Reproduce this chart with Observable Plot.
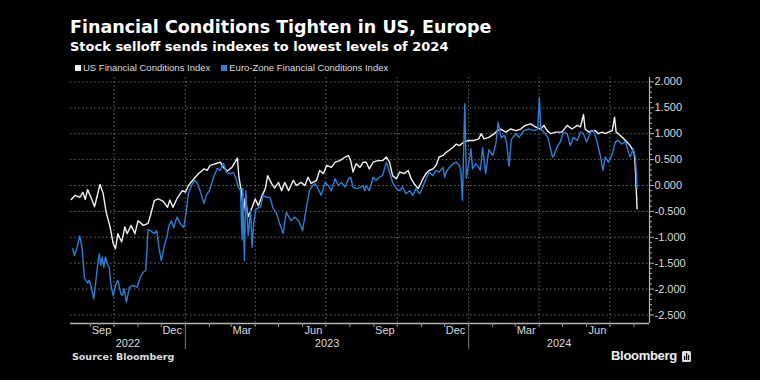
<!DOCTYPE html>
<html>
<head>
<meta charset="utf-8">
<script src="https://cdn.jsdelivr.net/npm/d3@7"></script>
<script src="https://cdn.jsdelivr.net/npm/@observablehq/plot@0.6"></script>
<style>
  html, body { margin: 0; padding: 0; background: #000; }
  #wrap { position: relative; width: 760px; height: 380px; background: #000; overflow: hidden; color: #fff; }
  #title { position: absolute; left: 70px; top: 19px; font: bold 17.5px "DejaVu Sans", sans-serif; line-height: 1; white-space: nowrap; }
  #subtitle { position: absolute; left: 70px; top: 40px; font: bold 13px "DejaVu Sans", sans-serif; line-height: 1; white-space: nowrap; }
  #legend { position: absolute; left: 75px; top: 62px; font: 9.5px "Liberation Sans", Arial, sans-serif; color: #ddd; line-height: 12px; white-space: nowrap; display: flex; align-items: center; }
  #legend .sw { display: inline-block; width: 6px; height: 6px; margin-right: 2px; }
  #legend .item { display: flex; align-items: center; margin-right: 11px; }
  #chart { position: absolute; left: 0; top: 74px; }
  #source { position: absolute; left: 72px; top: 351px; font: bold 9.5px "DejaVu Sans", sans-serif; color: #ddd; line-height: 12px; }
  #logo { position: absolute; left: 611px; top: 348px; font: bold 13px "Liberation Sans", Arial, sans-serif; color: #eee; line-height: 16px; display: flex; align-items: center; letter-spacing: -0.3px; }
  #logo svg { margin-left: 5px; }
</style>
</head>
<body>
<div id="wrap">
  <div id="title">Financial Conditions Tighten in US, Europe</div>
  <div id="subtitle">Stock selloff sends indexes to lowest levels of 2024</div>
  <div id="legend"></div>
  <div id="chart"></div>
  <div id="source">Source: Bloomberg</div>
  <div id="logo">Bloomberg<svg width="9" height="11" viewBox="0 0 9 11"><rect x="0" y="0" width="9" height="11" rx="1.5" fill="#ddd"/><rect x="2" y="5" width="1.2" height="4" fill="#000"/><rect x="4" y="2" width="1.2" height="7" fill="#000"/><rect x="6" y="4" width="1.2" height="5" fill="#000"/></svg></div>
</div>
<script>
// ---- Data ----
const seriesNames = ["US Financial Conditions Index", "Euro-Zone Financial Conditions Index"];

const usDates = [
"2022-08-07","2022-08-12","2022-08-18","2022-08-22","2022-08-25","2022-08-28","2022-09-02","2022-09-06","2022-09-13","2022-09-17",
"2022-09-21","2022-09-26","2022-09-30","2022-10-03","2022-10-06","2022-10-11","2022-10-15","2022-10-18","2022-10-23","2022-10-28",
"2022-11-01","2022-11-08","2022-11-14","2022-11-17","2022-11-22","2022-11-27","2022-12-03","2022-12-09","2022-12-12","2022-12-16",
"2022-12-21","2022-12-28","2023-01-01","2023-01-05","2023-01-12","2023-01-18","2023-01-25","2023-01-29","2023-02-02","2023-02-09",
"2023-02-15","2023-02-19","2023-02-24","2023-03-02","2023-03-06","2023-03-09","2023-03-11","2023-03-14","2023-03-17","2023-03-19",
"2023-03-23","2023-03-28","2023-04-01","2023-04-05","2023-04-10","2023-04-14","2023-04-17","2023-04-22","2023-04-26","2023-05-01",
"2023-05-05","2023-05-09","2023-05-14","2023-05-20","2023-05-24","2023-05-30","2023-06-04","2023-06-08","2023-06-12","2023-06-19",
"2023-06-23","2023-06-28","2023-07-02","2023-07-08","2023-07-13","2023-07-19","2023-07-26","2023-07-30","2023-08-02","2023-08-05",
"2023-08-09","2023-08-14","2023-08-18","2023-08-22","2023-08-26","2023-08-31","2023-09-06","2023-09-12","2023-09-17","2023-09-21",
"2023-09-25","2023-09-30","2023-10-04","2023-10-10","2023-10-15","2023-10-19","2023-10-23","2023-10-28","2023-10-31","2023-11-03",
"2023-11-07","2023-11-11","2023-11-16","2023-11-20","2023-11-24","2023-11-29","2023-12-03","2023-12-07","2023-12-12","2023-12-16",
"2023-12-20","2023-12-26","2024-01-01","2024-01-08","2024-01-14","2024-01-17","2024-01-21","2024-01-27","2024-02-03","2024-02-07",
"2024-02-11","2024-02-18","2024-02-24","2024-03-02","2024-03-08","2024-03-14","2024-03-21","2024-03-27","2024-04-03","2024-04-07",
"2024-04-11","2024-04-16","2024-04-22","2024-04-30","2024-05-07","2024-05-13","2024-05-20","2024-05-24","2024-05-28","2024-05-30",
"2024-06-04","2024-06-08","2024-06-12","2024-06-16","2024-06-21","2024-06-25","2024-06-29","2024-07-04","2024-07-07","2024-07-09",
"2024-07-14","2024-07-19","2024-07-23","2024-07-27","2024-07-31","2024-08-02","2024-08-03","2024-08-05"
];
const usValues = [
-0.27,-0.19,-0.23,-0.13,-0.27,-0.08,-0.25,-0.41,0.02,-0.15,
-0.52,-0.80,-1.12,-1.22,-0.93,-1.09,-0.80,-0.93,-0.77,-0.93,
-0.68,-0.77,-0.73,-0.58,-0.29,-0.26,-0.30,-0.42,-0.28,-0.42,
-0.26,-0.10,-0.13,0.00,0.13,0.23,0.32,0.29,0.39,0.42,
0.45,0.35,0.28,0.35,0.45,0.53,0.16,-0.10,-0.50,-0.25,
-0.60,-0.42,-0.26,-0.39,-0.19,-0.06,0.19,0.04,-0.05,0.06,
-0.10,0.06,-0.10,0.10,0.00,0.06,0.00,0.16,0.04,0.10,
0.29,0.23,0.39,0.35,0.45,0.48,0.55,0.58,0.48,0.26,
0.42,0.35,0.45,0.45,0.32,0.45,0.48,0.48,0.55,0.45,
0.19,0.13,0.26,0.23,0.29,0.13,0.03,-0.06,0.03,0.13,
0.23,0.29,0.32,0.39,0.55,0.58,0.64,0.68,0.74,0.80,
0.77,0.84,0.87,0.87,0.90,1.00,0.90,0.93,1.00,1.06,
1.09,1.03,1.09,1.06,1.09,1.16,1.19,1.13,1.09,1.16,
1.06,1.00,1.03,1.03,1.16,1.09,1.16,1.13,1.37,1.09,
1.03,1.06,1.06,1.00,1.03,1.00,1.03,1.06,1.32,1.03,
0.97,0.90,0.84,0.77,0.68,0.55,0.25,-0.45
];

const euDates = [
"2022-08-09","2022-08-11","2022-08-14","2022-08-18","2022-08-21","2022-08-24","2022-08-28","2022-08-30","2022-09-02","2022-09-05",
"2022-09-10","2022-09-12","2022-09-14","2022-09-16","2022-09-18","2022-09-20","2022-09-23","2022-09-25","2022-09-27","2022-09-30",
"2022-10-03","2022-10-06","2022-10-10","2022-10-12","2022-10-14","2022-10-17","2022-10-21","2022-10-25","2022-10-31","2022-11-04",
"2022-11-08","2022-11-11","2022-11-14","2022-11-17","2022-11-22","2022-11-25","2022-11-28","2022-12-01","2022-12-05","2022-12-08",
"2022-12-11","2022-12-14","2022-12-17","2022-12-21","2022-12-26","2022-12-30","2023-01-02","2023-01-05","2023-01-09","2023-01-13",
"2023-01-16","2023-01-20","2023-01-25","2023-01-28","2023-02-01","2023-02-06","2023-02-11","2023-02-15","2023-02-19","2023-02-23",
"2023-02-28","2023-03-04","2023-03-07","2023-03-10","2023-03-13","2023-03-15","2023-03-16","2023-03-18","2023-03-20","2023-03-23",
"2023-03-26","2023-03-28","2023-03-30","2023-04-02","2023-04-08","2023-04-11","2023-04-16","2023-04-20","2023-04-24","2023-04-28",
"2023-05-02","2023-05-07","2023-05-11","2023-05-17","2023-05-22","2023-05-27","2023-06-01","2023-06-06","2023-06-10","2023-06-13",
"2023-06-17","2023-06-21","2023-06-25","2023-06-30","2023-07-04","2023-07-08","2023-07-13","2023-07-17","2023-07-21","2023-07-26",
"2023-07-30","2023-08-02","2023-08-05","2023-08-09","2023-08-14","2023-08-18","2023-08-20","2023-08-22","2023-08-26","2023-08-31",
"2023-09-04","2023-09-08","2023-09-12","2023-09-17","2023-09-21","2023-09-25","2023-09-30","2023-10-04","2023-10-08","2023-10-12",
"2023-10-17","2023-10-21","2023-10-25","2023-10-30","2023-11-03","2023-11-07","2023-11-11","2023-11-16","2023-11-20","2023-11-24",
"2023-11-29","2023-12-01","2023-12-03","2023-12-07","2023-12-12","2023-12-16","2023-12-20","2023-12-22","2023-12-24","2023-12-27",
"2023-12-29","2024-01-01","2024-01-04","2024-01-06","2024-01-10","2024-01-14","2024-01-16","2024-01-19","2024-01-23","2024-01-27",
"2024-02-01","2024-02-05","2024-02-08","2024-02-12","2024-02-16","2024-02-19","2024-02-22","2024-02-25","2024-03-02","2024-03-06",
"2024-03-12","2024-03-19","2024-03-25","2024-03-30","2024-04-01","2024-04-03","2024-04-07","2024-04-12","2024-04-16","2024-04-18",
"2024-04-20","2024-04-24","2024-04-28","2024-05-02","2024-05-07","2024-05-11","2024-05-15","2024-05-20","2024-05-24","2024-05-28",
"2024-06-01","2024-06-06","2024-06-10","2024-06-14","2024-06-19","2024-06-22","2024-06-25","2024-06-29","2024-07-04","2024-07-08",
"2024-07-12","2024-07-16","2024-07-21","2024-07-25","2024-07-27","2024-07-31","2024-08-03","2024-08-05"
];
const euValues = [
-1.22,-1.35,-1.22,-0.97,-1.22,-1.79,-1.88,-1.83,-1.98,-2.19,
-1.54,-1.32,-1.54,-1.38,-1.58,-1.38,-1.53,-1.58,-1.91,-2.13,
-1.93,-1.83,-2.09,-2.12,-1.99,-2.25,-1.96,-1.93,-1.96,-1.77,
-1.67,-1.64,-0.85,-0.87,-0.93,-0.87,-1.19,-1.45,-1.16,-1.00,
-0.77,-0.68,-0.81,-0.61,-0.75,-0.81,-0.52,-0.15,0.00,0.10,
0.06,-0.10,-0.35,-0.19,-0.10,0.14,0.33,0.29,0.43,0.25,
0.23,0.25,0.15,-0.02,-0.10,-1.05,-0.05,-1.45,-0.10,-0.97,
-0.48,-1.19,-0.74,-0.45,-0.41,-0.19,-0.23,-0.23,-0.44,-0.52,
-0.71,-0.93,-0.52,-0.68,-0.61,-0.68,-0.87,-0.42,-0.10,-0.02,
0.04,-0.06,-0.19,0.06,0.00,-0.10,0.13,0.00,0.06,-0.03,
0.13,0.16,-0.03,-0.06,-0.04,0.00,-0.10,0.00,-0.10,0.16,
0.10,0.16,0.19,0.45,0.26,0.06,-0.06,-0.10,-0.03,-0.16,
-0.10,-0.19,-0.06,-0.16,-0.03,0.13,0.26,0.19,0.29,0.26,
0.35,0.16,0.26,0.35,0.42,0.45,0.39,0.26,-0.29,1.58,
0.14,0.42,0.71,0.32,0.42,0.35,0.29,0.73,0.23,0.69,
0.58,0.80,1.22,0.92,0.97,0.81,0.37,0.89,1.00,0.93,
1.06,1.09,1.06,1.09,1.70,1.08,1.03,0.93,0.68,0.55,
0.58,0.75,0.84,1.03,1.00,0.77,0.93,0.87,1.03,1.00,
0.84,1.03,1.06,0.87,0.55,0.29,0.55,0.45,0.61,0.84,
0.87,0.80,0.84,0.64,0.55,0.71,0.52,-0.06
];

const yTickValues = [-2.5, -2, -1.5, -1, -0.5, 0, 0.5, 1, 1.5, 2];
const monthLabelDates = ["2022-09-15","2022-12-15","2023-03-15","2023-06-15","2023-09-15","2023-12-15","2024-03-15","2024-06-15"];
const yearLabels = ["2022", "2023", "2024"];

// ---- Styling / scale settings ----
const seriesColors = ["#f2f2f2", "#2b7fd9"];
const xDomain = [new Date("2022-08-06"), new Date("2024-08-21")];
const yDomain = [-2.664, 2.085];

const us = usDates.map((d, i) => ({date: new Date(d), value: usValues[i]}));
const eu = euDates.map((d, i) => ({date: new Date(d), value: euValues[i]}));

// Legend
const legend = document.getElementById("legend");
seriesNames.forEach((name, i) => {
  const item = document.createElement("span");
  item.className = "item";
  item.innerHTML = `<span class="sw" style="background:${seriesColors[i]}"></span>${name}`;
  legend.appendChild(item);
});

const quarterStarts = d3.utcMonth.every(3).range(xDomain[0], xDomain[1]);
const monthStarts = d3.utcMonth.range(xDomain[0], xDomain[1]);
const yearStarts = d3.utcYear.range(xDomain[0], xDomain[1]);
const yearMids = yearLabels.map(y => {
  const a = Math.max(+new Date(`${y}-01-01`), +xDomain[0]);
  const b = Math.min(+new Date(`${+y + 1}-01-01`), +xDomain[1]);
  return new Date((a + b) / 2);
});
const minorY = d3.range(-25, 21).map(i => i / 10).filter(v => Math.abs(v * 2 - Math.round(v * 2)) > 1e-9);
const gridStyle = {stroke: "#6e6e6e", strokeOpacity: 1, strokeDasharray: "1.5,2.5", strokeWidth: 1};

const chart = Plot.plot({
  width: 760,
  height: 290,
  marginLeft: 70,
  marginRight: 111,
  marginTop: 3,
  marginBottom: 41,
  style: {background: "transparent", color: "#c8c8c8", fontFamily: "'Liberation Sans', Arial, sans-serif", fontSize: "11px", overflow: "visible"},
  x: {type: "utc", domain: xDomain, label: null},
  y: {domain: yDomain, label: null},
  marks: [
    Plot.gridY(yTickValues, gridStyle),
    Plot.gridX(quarterStarts, gridStyle),
    Plot.ruleY([yDomain[0]], {stroke: "#b4b4b4", strokeWidth: 1.5}),
    Plot.ruleX([xDomain[1]], {stroke: "#b4b4b4", strokeWidth: 1.2}),
    Plot.axisY(yTickValues, {anchor: "right", tickSize: 4, tickPadding: 1, tickFormat: d => d.toFixed(3), fill: "#dcdcdc", stroke: "#b4b4b4", label: null}),
    Plot.axisY(minorY, {anchor: "right", tickSize: 2, tickFormat: () => "", stroke: "#b4b4b4", label: null}),
    Plot.axisX(monthStarts, {tickSize: 4, tickFormat: () => "", stroke: "#9a9a9a", label: null}),
    Plot.axisX(yearStarts, {tickSize: 26, tickFormat: () => "", stroke: "#7a7a7a", label: null}),
    Plot.axisX(monthLabelDates.map(d => new Date(d)), {tickSize: 0, tickPadding: 3, tickFormat: d3.utcFormat("%b"), fill: "#dcdcdc", label: null}),
    Plot.axisX(yearMids, {tickSize: 0, tickPadding: 16, tickFormat: d => String(d.getUTCFullYear()), fill: "#dcdcdc", label: null}),
    Plot.lineY(us, {x: "date", y: "value", stroke: seriesColors[0], strokeWidth: 1.4}),
    Plot.lineY(eu, {x: "date", y: "value", stroke: seriesColors[1], strokeWidth: 1.4})
  ]
});
document.getElementById("chart").appendChild(chart);
</script>
</body>
</html>
